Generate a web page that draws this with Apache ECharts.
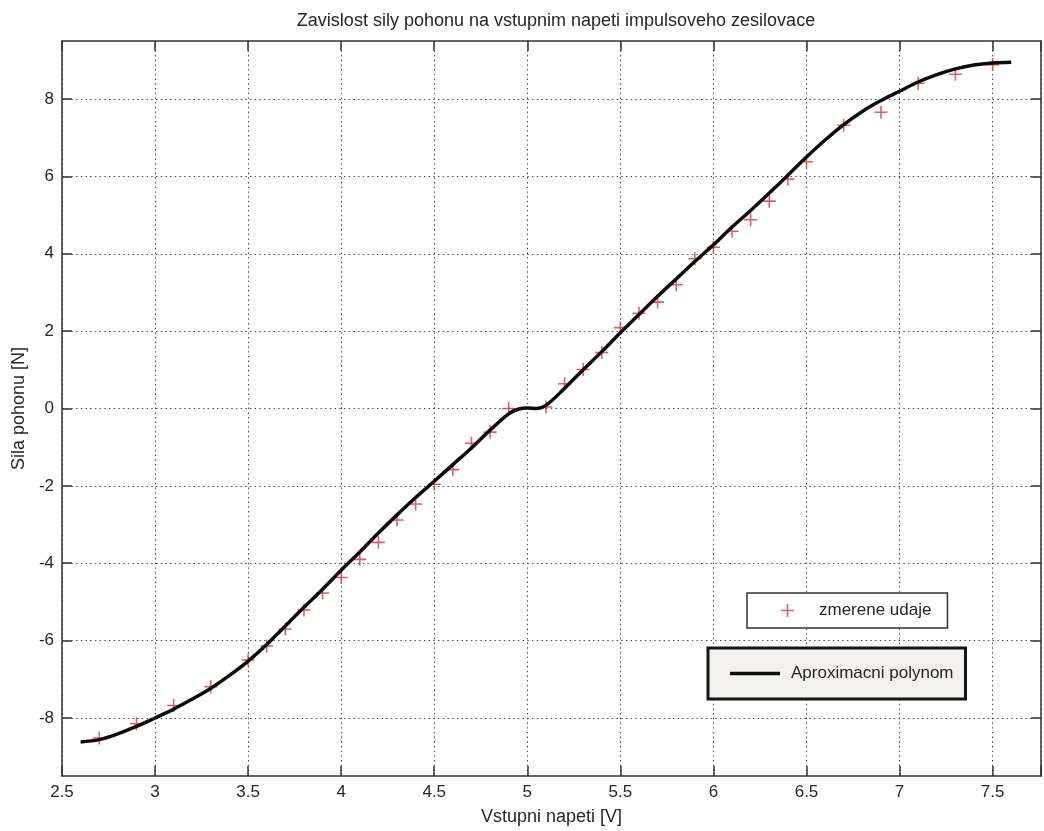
<!DOCTYPE html>
<html>
<head>
<meta charset="utf-8">
<title>Zavislost sily pohonu</title>
<script src="https://cdn.jsdelivr.net/npm/echarts@6/dist/echarts.min.js"></script>
<style>
  html, body { margin: 0; padding: 0; background: #ffffff; }
  #chart { width: 1044px; height: 831px; }
</style>
</head>
<body>
<div id="chart"></div>
<script>
// Measured points: input voltage [V] and drive force [N]
const measX = [2.7, 2.9, 3.1, 3.3, 3.5, 3.6, 3.7, 3.8, 3.9, 4.0, 4.1, 4.2, 4.3, 4.4, 4.5, 4.6, 4.7, 4.8, 4.9,
               5.1, 5.2, 5.3, 5.4, 5.5, 5.6, 5.7, 5.8, 5.9, 6.0, 6.1, 6.2, 6.3, 6.4, 6.5, 6.7, 6.9, 7.1, 7.3, 7.5];
const measY = [-8.52, -8.15, -7.68, -7.19, -6.50, -6.14, -5.70, -5.21, -4.77, -4.37, -3.90, -3.46, -2.88, -2.47, -1.96, -1.58, -0.90, -0.61, 0.00,
               0.04, 0.64, 1.01, 1.45, 2.09, 2.46, 2.75, 3.20, 3.87, 4.17, 4.58, 4.88, 5.36, 5.93, 6.38, 7.32, 7.66, 8.41, 8.64, 8.89];

// Approximating polynomial, sampled along the curve
const fitX = [2.6, 2.7, 2.8, 2.9, 3.0, 3.1, 3.2, 3.3, 3.4, 3.5, 3.6, 3.7, 3.8, 3.9, 4.0, 4.1, 4.2, 4.3, 4.4, 4.5,
              4.6, 4.7, 4.8, 4.9, 4.95, 5.0, 5.05, 5.1, 5.2, 5.3, 5.4, 5.5, 5.6, 5.7, 5.8, 5.9, 6.0, 6.1, 6.2,
              6.3, 6.4, 6.5, 6.6, 6.7, 6.8, 6.9, 7.0, 7.1, 7.2, 7.3, 7.4, 7.5, 7.6];
const fitY = [-8.62, -8.56, -8.41, -8.22, -8.00, -7.77, -7.51, -7.23, -6.90, -6.53, -6.10, -5.62, -5.14, -4.67, -4.18, -3.71, -3.22, -2.75, -2.30, -1.88,
              -1.45, -1.02, -0.56, -0.14, -0.02, 0.01, 0.00, 0.08, 0.52, 1.00, 1.47, 1.96, 2.43, 2.90, 3.35, 3.80, 4.23, 4.69, 5.12,
              5.57, 6.03, 6.50, 6.94, 7.34, 7.68, 7.96, 8.20, 8.44, 8.63, 8.78, 8.88, 8.93, 8.95];

// Axis ticks
const xTicks = [2.5, 3, 3.5, 4, 4.5, 5, 5.5, 6, 6.5, 7, 7.5];
const yTicks = [-8, -6, -4, -2, 0, 2, 4, 6, 8];

const titleText = 'Zavislost sily pohonu na vstupnim napeti impulsoveho zesilovace';
const xName = 'Vstupni napeti [V]';
const yName = 'Sila pohonu [N]';
const measName = 'zmerene udaje';
const fitName = 'Aproximacni polynom';

const FONT = "'Liberation Sans', Arial, Helvetica, sans-serif";
const TEXT = '#262626';
const FRAME = '#333333';
const PLUS = 'path://M4.4,0 H5.6 V4.4 H10 V5.6 H5.6 V10 H4.4 V5.6 H0 V4.4 H4.4 Z';

const gridLine = { show: true, lineStyle: { color: '#444', width: 1.1, type: [1.4, 3.3] } };
const frameLine = { show: true, onZero: false, lineStyle: { color: FRAME, width: 1.5 } };
const innerTick = { show: true, inside: true, length: 10, lineStyle: { color: FRAME, width: 1.5 } };

const chart = echarts.init(document.getElementById('chart'), null, { renderer: 'canvas' });

chart.setOption({
  animation: false,
  backgroundColor: '#ffffff',
  textStyle: { fontFamily: FONT },
  title: {
    text: titleText,
    left: 551, top: 7, textAlign: 'center',
    textStyle: { fontFamily: FONT, fontSize: 18, fontWeight: 'normal', color: TEXT }
  },
  grid: { left: 62, top: 41, right: 3, bottom: 50, containLabel: false },
  legend: [
    {
      data: [measName],
      left: 747, top: 593,
      orient: 'vertical',
      padding: [9, 16, 9, 34],
      itemWidth: 13, itemHeight: 13,
      backgroundColor: '#ffffff',
      borderColor: FRAME, borderWidth: 1.5, borderRadius: 0,
      selectedMode: false,
      textStyle: { fontFamily: FONT, fontSize: 17, color: TEXT, padding: [0, 0, 0, 20] }
    },
    {
      data: [{ name: fitName, icon: 'rect' }],
      left: 708, top: 648,
      orient: 'vertical',
      padding: [17, 12, 17, 22],
      itemWidth: 50, itemHeight: 3.5,
      backgroundColor: '#f3f1ee',
      borderColor: '#151515', borderWidth: 3, borderRadius: 0,
      selectedMode: false,
      textStyle: { fontFamily: FONT, fontSize: 17, color: TEXT, padding: [0, 0, 0, 6] }
    }
  ],
  xAxis: [
    {
      type: 'value', position: 'bottom',
      min: 2.5, max: 7.76, interval: 0.5,
      name: xName, nameLocation: 'middle', nameGap: 32,
      nameTextStyle: { fontFamily: FONT, fontSize: 18, color: TEXT },
      axisLine: frameLine, axisTick: innerTick,
      axisLabel: { margin: 8, fontFamily: FONT, fontSize: 17, color: TEXT, customValues: xTicks },
      splitLine: gridLine
    },
    {
      type: 'value', position: 'top',
      min: 2.5, max: 7.76, interval: 0.5,
      axisLine: frameLine, axisTick: innerTick,
      axisLabel: { show: false }, splitLine: { show: false }
    }
  ],
  yAxis: [
    {
      type: 'value', position: 'left',
      min: -9.5, max: 9.5,
      name: yName, nameLocation: 'middle', nameGap: 23, nameRotate: 90,
      nameTextStyle: { fontFamily: FONT, fontSize: 18, color: TEXT },
      axisLine: frameLine,
      axisTick: Object.assign({}, innerTick, { customValues: yTicks }),
      axisLabel: { margin: 8, fontFamily: FONT, fontSize: 17, color: TEXT, customValues: yTicks },
      splitLine: gridLine
    },
    {
      type: 'value', position: 'right',
      min: -9.5, max: 9.5,
      axisLine: frameLine,
      axisTick: Object.assign({}, innerTick, { customValues: yTicks }),
      axisLabel: { show: false }, splitLine: { show: false }
    }
  ],
  series: [
    {
      name: measName,
      type: 'scatter',
      xAxisIndex: 0, yAxisIndex: 0,
      symbol: PLUS, symbolSize: 13,
      itemStyle: { color: '#dc3242' },
      data: measX.map((x, i) => [x, measY[i]]),
      z: 2
    },
    {
      name: fitName,
      type: 'line',
      xAxisIndex: 0, yAxisIndex: 0,
      smooth: 0.35,
      showSymbol: false, symbol: 'none',
      lineStyle: { color: '#0d0d0d', width: 3.5 },
      itemStyle: { color: '#0d0d0d' },
      data: fitX.map((x, i) => [x, fitY[i]]),
      z: 3
    }
  ]
});
</script>
</body>
</html>
